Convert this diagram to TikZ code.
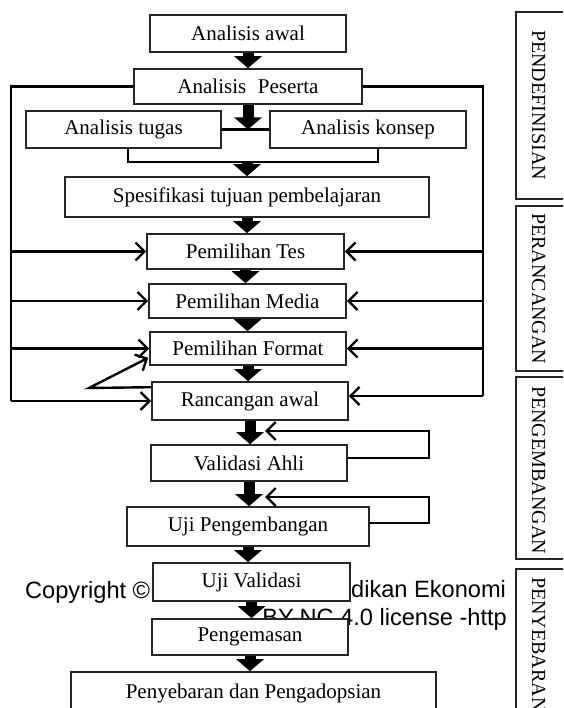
\documentclass[tikz,border=0pt]{standalone}
\usepackage{fontspec}
\setmainfont{Liberation Serif}
\newfontfamily\wmfont{Liberation Sans}
\usetikzlibrary{arrows.meta,calc}
\begin{document}
\begin{tikzpicture}[x=1pt,y=-1pt,
  box/.style={draw=black!85, fill=white, line width=1.6pt, inner sep=0pt, font=\fontsize{21}{24}\selectfont},
  stage/.style={draw=black!85, line width=1.2pt},
  stagetext/.style={rotate=-90, anchor=base west, inner sep=0pt, font=\fontsize{20}{22}\selectfont},
  fat/.style={line width=11pt, -{Triangle[width=27pt,length=12pt]}},
  thin/.style={line width=2.4pt},
  thinarrow/.style={line width=2.4pt, -{Straight Barb[length=9pt,width=18pt]}},
  wm/.style={font=\wmfont\fontsize{23.6}{26}\selectfont, inner sep=0pt, anchor=base west}
]
\useasboundingbox (0,0) rectangle (563,708);
\clip (0,0) rectangle (563,708);
\fill[white] (0,0) rectangle (563,708);

% watermark (under the boxes)
\node[wm] (wm1) at (25,598) {Copyright ©};
\node[wm] (wm2) at (351,597) {dikan Ekonomi};
\node[wm, anchor=base east] (wm3) at (507,625) {BY-NC 4.0 license -http};

% stage boxes
\draw[stage] (516,12) rectangle (590,199);
\draw[stage] (516,206) rectangle (590,371);
\draw[stage] (516,377) rectangle (590,559);
\draw[stage] (516,569) rectangle (590,730);
\node[stagetext] (s1) at (532,30) {PENDEFINISIAN};
\node[stagetext] (s2) at (532,213) {PERANCANGAN};
\node[stagetext] (s3) at (532,386) {PENGEMBANGAN};
\node[stagetext] (s4) at (532,577) {PENYEBARAN};

% boxes
\node[box, minimum width=196pt, minimum height=37pt] (awal) at (248,33.5) {Analisis awal};
\node[box, minimum width=228pt, minimum height=35pt] (peserta) at (248,86.5) {Analisis\hspace{0.55em}Peserta};
\node[box, minimum width=195pt, minimum height=37pt] (tugas) at (123.5,129.5) {Analisis tugas};
\node[box, minimum width=196pt, minimum height=37pt] (konsep) at (368,129.5) {Analisis konsep};
\node[box, minimum width=364pt, minimum height=40pt] (spes) at (247,197) {Spesifikasi tujuan pembelajaran};
\node[box, minimum width=197pt, minimum height=35pt] (tes) at (245.5,251.5) {Pemilihan Tes};
\node[box, minimum width=197pt, minimum height=34pt] (media) at (247.5,301) {Pemilihan Media};
\node[box, minimum width=196pt, minimum height=33pt] (format) at (248,348.5) {Pemilihan Format};
\node[box, minimum width=196pt, minimum height=38pt] (ranc) at (250,401) {Rancangan awal};
\node[box, minimum width=196pt, minimum height=36pt] (ahli) at (249,463) {Validasi Ahli};
\node[box, minimum width=242pt, minimum height=39pt] (ujipeng) at (248,526.5) {Uji Pengembangan};
\node[box, minimum width=197pt, minimum height=38pt] (ujival) at (251.5,582) {Uji Validasi};
\node[box, minimum width=196pt, minimum height=36pt] (kemas) at (250,637) {Pengemasan};
\node[box, minimum width=365pt, minimum height=42pt] (sebar) at (253.5,693) {Penyebaran dan Pengadopsian};

% main fat arrows
\draw[fat] (awal.south) -- (awal.south |- peserta.north);
\draw[fat] (peserta.south) -- (peserta.south |- tugas.east);
\draw[thin] (tugas.east) -- (konsep.west);
\coordinate (br) at (247,162);
\draw[thin] ([xshift=4.5pt]tugas.south) |- (br) -| ([xshift=10pt]konsep.south);
\draw[fat] (br) -- (br |- spes.north);
\draw[fat] (spes.south) -- (spes.south |- tes.north);
\draw[fat] (tes.south) -- (tes.south |- media.north);
\draw[fat] (media.south) -- (media.south |- format.north);
\draw[fat] (format.south) -- (format.south |- ranc.north);
\draw[fat] (ranc.south) -- (ranc.south |- ahli.north);
\draw[fat] (ahli.south) -- (ahli.south |- ujipeng.north);
\draw[fat] (ujipeng.south) -- (ujipeng.south |- ujival.north);
\draw[fat] (ujival.south) -- (ujival.south |- kemas.north);
\draw[fat] (kemas.south) -- (kemas.south |- sebar.north);

% left feedback
\coordinate (lx) at (11,0);
\draw[thin] (peserta.west) -| (ranc.west -| lx);
\draw[thinarrow] (tes.west -| lx) -- (tes.west);
\draw[thinarrow] (media.west -| lx) -- (media.west);
\draw[thinarrow] (format.west -| lx) -- (format.west);
\draw[thinarrow] (ranc.west -| lx) -- (ranc.west);

% right feedback
\coordinate (rx) at (483,0);
\coordinate (rr) at ($(ranc.east)+(0,-5)$);
\draw[thin] (peserta.east) -| (rr -| rx);
\draw[thinarrow] (tes.east -| rx) -- (tes.east);
\draw[thinarrow] (media.east -| rx) -- (media.east);
\draw[thinarrow] (format.east -| rx) -- (format.east);
\draw[thinarrow] (rr -| rx) -- (rr);

% rancangan -> format diagonal
\coordinate (d0) at ($(ranc.north west)+(0,6)$);
\coordinate (d1) at (89,388);
\coordinate (d2) at ($(format.south west)+(-1,-8)$);
\draw[thinarrow] (d0) -- (d1) -- (d2);

% validation loops
\coordinate (vx) at (429,0);
\coordinate (v1) at ($(ahli.east)+(0,-5)$);
\coordinate (t1) at (265,431);
\draw[thinarrow] (v1) -| (vx |- t1) -- (t1);
\coordinate (u1) at ($(ujipeng.east)+(0,-3.5)$);
\coordinate (t2) at (265,497);
\draw[thinarrow] (u1) -| (vx |- t2) -- (t2);
\end{tikzpicture}
\end{document}
